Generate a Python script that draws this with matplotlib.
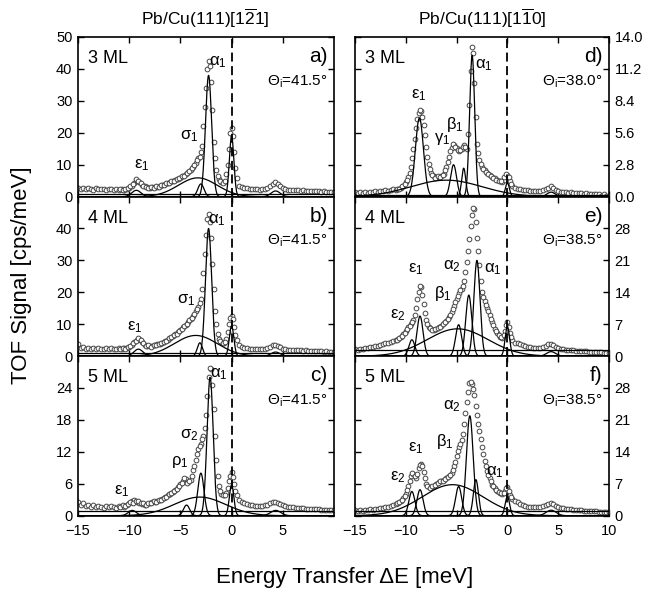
import numpy as np
import matplotlib.pyplot as plt

plt.rcParams['font.family'] = 'Liberation Sans'
plt.rcParams['mathtext.fontset'] = 'custom'
plt.rcParams['mathtext.rm'] = 'Liberation Sans'
plt.rcParams['mathtext.it'] = 'Liberation Sans:italic'
plt.rcParams['mathtext.bf'] = 'Liberation Sans:bold'

# energy transfer grid of the measured points [meV]
energy = np.arange(-15, 10.001, 0.25)
# extra points between the grid points in the peak region
energy_mid = np.arange(-10.875, 0.376, 0.25)

tof_a = [2.8, 2.4, 2.7, 2.3, 2.6, 2.5, 2.2, 2.6, 2.4, 2.3, 2.5, 2.2, 2.4, 2.3, 2.1, 2.4, 2.2, 2.3, 2.1, 2.5,
         2.8, 3.5, 4.3, 5.0, 4.6, 3.8, 3.2, 2.9,
         2.8, 2.9, 3.0, 3.1, 3.3, 3.6, 3.9, 4.3, 4.6, 5.0, 5.3, 5.6, 6.0, 6.5, 7.0, 7.6, 8.4, 9.3, 10.5, 12.0, 14.0,
         22, 34, 42.5, 36, 17, 8.5, 5.5, 4.5, 4.5, 7.0, 15, 21.5,
         14, 6.0, 3.5, 3.0, 2.8, 2.6, 2.5, 2.4, 2.3, 2.3, 2.2, 2.3, 2.4, 2.8, 3.4, 4.0, 4.5, 4.0, 3.2, 2.6,
         2.3, 2.2, 2.1, 2.2, 2.0, 2.1, 1.9, 2.0, 1.9, 1.8, 1.9, 1.7, 1.8, 1.7, 1.6, 1.7, 1.6, 1.5, 1.6, 1.5]
tof_b = [3.8, 2.6, 2.8, 2.3, 2.6, 2.4, 2.7, 2.3, 2.5, 2.4, 2.2, 2.6, 2.3, 2.5, 2.4, 2.2, 2.6, 2.4, 2.5, 2.7,
         3.0, 3.6, 4.3, 5.2, 5.5, 4.6, 3.6, 3.2,
         3.1, 3.3, 3.4, 3.7, 3.9, 4.2, 4.7, 5.2, 5.8, 6.3, 6.9, 7.5, 8.2, 9.0, 9.8, 10.8, 11.6, 12.6, 14.0, 15.5, 18.0,
         26, 38, 44.5, 37, 21, 10, 5.5, 4.3, 4.0, 5.5, 10, 12.5,
         9.0, 5.0, 3.4, 2.9, 2.7, 2.5, 2.4, 2.3, 2.2, 2.2, 2.1, 2.2, 2.3, 2.5, 3.0, 3.4, 3.6, 3.3, 2.8, 2.4,
         2.1, 2.0, 2.0, 1.9, 1.9, 1.8, 1.8, 1.7, 1.8, 1.6, 1.7, 1.6, 1.5, 1.6, 1.5, 1.4, 1.5, 1.4, 1.3, 1.4]
tof_c = [2.6, 2.0, 2.3, 1.8, 2.1, 1.7, 2.0, 1.6, 1.9, 1.7, 1.5, 1.8, 1.6, 1.9, 1.7, 1.5, 1.8, 1.9, 1.7, 2.0,
         2.3, 2.7, 2.9, 2.6, 2.4, 2.2, 2.1, 2.2,
         2.3, 2.5, 2.6, 2.8, 3.0, 3.2, 3.5, 3.8, 4.1, 4.4, 4.8, 5.3, 5.9, 6.5, 6.9, 6.4, 6.8, 8.5, 10.4, 12.5, 13.5,
         15.0, 19, 26, 27.5, 20, 10.5, 5.5, 4.0, 3.8, 4.2, 6.5, 8.3,
         6.0, 3.8, 2.9, 2.6, 2.4, 2.2, 2.1, 2.0, 1.9, 1.9, 1.8, 1.9, 2.0, 2.1, 2.3, 2.5, 2.6, 2.4, 2.2, 2.0,
         1.8, 1.7, 1.6, 1.6, 1.5, 1.5, 1.4, 1.4, 1.3, 1.3, 1.3, 1.2, 1.2, 1.2, 1.1, 1.1, 1.1, 1.0, 1.0, 1.0]
tof_d = [0.4, 0.3, 0.4, 0.3, 0.4, 0.3, 0.4, 0.4, 0.5, 0.4, 0.5, 0.5, 0.6, 0.5, 0.6, 0.7, 0.6, 0.7, 0.8, 0.9,
         1.3, 1.7, 2.6, 4.2, 6.0, 7.3, 7.5, 6.3,
         4.4, 2.9, 2.1, 1.8, 1.7, 1.7, 1.8, 2.0, 2.6, 3.5, 4.3, 4.5, 4.3, 4.0, 4.2, 4.5, 4.2, 8.0, 13.1, 10.0, 4.6,
         3.2, 2.6, 2.3, 2.1, 1.9, 1.7, 1.6, 1.5, 1.4, 1.3, 1.5, 1.9,
         1.4, 0.9, 0.8, 0.7, 0.7, 0.6, 0.6, 0.6, 0.5, 0.5, 0.5, 0.5, 0.5, 0.6, 0.7, 0.8, 0.9, 0.8, 0.6, 0.5,
         0.4, 0.4, 0.4, 0.3, 0.4, 0.3, 0.3, 0.3, 0.3, 0.2, 0.3, 0.2, 0.2, 0.2, 0.2, 0.2, 0.1, 0.2, 0.1, 0.1]
tof_e = [1.5, 1.3, 1.6, 1.5, 1.8, 1.7, 2.0, 2.0, 2.2, 2.3, 2.5, 2.6, 2.8, 2.9, 3.1, 3.3, 3.5, 3.8, 4.2, 4.8,
         5.5, 6.3, 7.0, 8.0, 10.5, 14.0, 15.2, 11.5,
         8.0, 6.5, 5.9, 5.8, 6.0, 6.3, 6.7, 7.2, 7.8, 8.6, 9.6, 11.0, 12.5, 13.8, 14.8, 16.5, 20.6, 25.7, 30.9, 32.3, 26.0,
         20, 14, 12, 10.5, 9.0, 7.5, 6.0, 5.0, 4.3, 4.0, 5.5, 7.5,
         5.0, 3.5, 3.0, 2.8, 2.6, 2.4, 2.2, 2.1, 2.0, 1.9, 1.8, 1.8, 1.9, 2.0, 2.3, 2.6, 2.7, 2.5, 2.1, 1.8,
         1.6, 1.5, 1.4, 1.4, 1.3, 1.3, 1.2, 1.2, 1.1, 1.1, 1.1, 1.0, 1.0, 1.0, 0.9, 0.9, 0.9, 0.8, 0.8, 0.8]
tof_f = [1.3, 1.0, 1.2, 1.1, 1.3, 1.2, 1.4, 1.3, 1.5, 1.4, 1.6, 1.7, 1.8, 1.9, 2.1, 2.3, 2.5, 2.8, 3.2, 3.8,
         4.8, 6.5, 8.8, 9.2, 8.3, 10.5, 11.4, 9.5,
         7.0, 6.2, 6.3, 6.6, 7.0, 7.3, 7.6, 7.9, 8.2, 8.6, 9.3, 10.8, 13.0, 15.0, 16.5, 20.0, 25.0, 29.0, 28.8, 26.5, 22.0,
         18.5, 15.0, 12.0, 9.8, 8.2, 6.8, 6.0, 5.4, 5.0, 4.8, 5.5, 6.2,
         4.6, 3.6, 3.2, 2.9, 2.6, 2.4, 2.2, 2.0, 1.9, 1.8, 1.8, 1.8, 1.9, 2.1, 2.4, 2.6, 2.7, 2.5, 2.2, 1.9,
         1.7, 1.6, 1.5, 1.4, 1.4, 1.3, 1.3, 1.2, 1.2, 1.1, 1.1, 1.1, 1.0, 1.0, 1.0, 0.9, 0.9, 0.9, 0.8, 0.8]

# measured points at the energies in energy_mid
mid_a = [2.4, 2.2, 2.4, 2.6, 3.2, 4.0, 5.4, 4.8, 4.2, 3.4, 3.1, 2.7, 3.0, 2.8, 3.2, 3.1, 3.6, 3.7, 4.2, 4.4,
         4.9, 5.0, 5.6, 5.7, 6.4, 6.6, 7.5, 7.9, 9.0, 9.8, 11.5, 12.5, 16, 28, 40, 41, 27, 12, 6.5, 5.0,
         4.4, 5.0, 10, 20, 19, 9.0]
mid_b = [2.3, 2.6, 2.4, 2.9, 3.2, 4.0, 4.9, 5.6, 5.0, 4.2, 3.3, 3.4, 3.0, 3.5, 3.5, 3.9, 4.0, 4.6, 4.9, 5.6,
         6.0, 6.7, 7.1, 7.9, 8.5, 9.5, 10.2, 11.3, 12.0, 13.2, 14.8, 16.5, 21, 32, 43, 42, 29, 14, 7.0, 4.8,
         4.0, 4.5, 7.5, 12.0, 11.5, 6.5]
mid_c = [1.6, 2.0, 1.8, 2.2, 2.6, 2.4, 2.8, 2.7, 2.3, 2.3, 2.0, 2.4, 2.4, 2.7, 2.6, 3.0, 3.0, 3.4, 3.6, 4.0,
         4.2, 4.7, 5.0, 5.6, 6.2, 7.1, 6.2, 6.6, 7.5, 9.4, 11.6, 13.0, 14.4, 16.5, 22.5, 27.8, 24.5, 15, 7.5, 4.6,
         3.9, 3.9, 5.2, 7.5, 7.3, 4.6]
mid_d = [0.7, 0.7, 0.9, 1.1, 1.5, 2.1, 3.4, 5.1, 6.8, 7.6, 7.0, 5.4, 3.5, 2.4, 1.9, 1.6, 1.8, 1.7, 1.9, 2.3,
         3.0, 4.0, 4.6, 4.4, 4.1, 4.1, 4.4, 4.4, 5.5, 11.0, 12.6, 7.0, 3.8, 2.9, 2.4, 2.2, 2.0, 1.8, 1.6, 1.5,
         1.4, 1.4, 1.7, 2.0, 1.7, 1.1]
mid_e = [3.6, 4.0, 4.5, 5.1, 5.9, 6.7, 7.4, 9.0, 12.5, 15.4, 13.5, 9.5, 7.1, 6.1, 5.8, 5.9, 6.2, 6.5, 7.0, 7.5,
         8.2, 9.1, 10.3, 11.8, 13.2, 14.5, 15.4, 18.5, 23.0, 28.5, 32.4, 29.5, 23.0, 16.5, 13.0, 11.2, 9.8, 8.2, 6.8, 5.5,
         4.6, 4.1, 4.6, 6.8, 6.5, 4.2]
mid_f = [2.7, 3.0, 3.5, 4.3, 5.6, 7.7, 9.4, 8.7, 9.2, 11.2, 10.8, 8.2, 6.5, 6.0, 6.5, 6.8, 7.1, 7.5, 7.7, 8.0,
         8.4, 8.9, 10.0, 11.8, 14.2, 15.8, 18.0, 22.5, 27.2, 29.3, 27.8, 24.0, 20.2, 16.8, 13.5, 10.8, 9.0, 7.5, 6.4, 5.7,
         5.2, 4.9, 5.0, 6.0, 5.4, 4.0]

# fitted gaussian components: (centre, height, sigma)
peaks_a = [(-2.25, 38, 0.3), (-3.0, 4.0, 0.3), (0.0, 19, 0.22), (-3.3, 5.9, 1.9),
           (-9.3, 2.0, 0.45), (4.3, 1.8, 0.45)]
peaks_b = [(-2.25, 40, 0.3), (-3.1, 4.2, 0.25), (0.0, 9.5, 0.22), (-3.5, 6.5, 2.1),
           (-9.1, 2.2, 0.45), (4.3, 1.3, 0.45)]
peaks_c = [(-2.1, 26, 0.3), (-3.0, 8.0, 0.3), (-4.4, 2.0, 0.3), (0.0, 5.8, 0.22),
           (-3.1, 3.5, 2.5), (-9.7, 1.0, 0.4), (4.3, 1.0, 0.5)]
peaks_d = [(-3.47, 12.4, 0.25), (-8.66, 6.9, 0.4), (-5.3, 2.8, 0.3), (-4.3, 2.5, 0.2),
           (-6.0, 1.45, 3.5), (0.0, 1.2, 0.2), (4.3, 0.4, 0.4)]
peaks_e = [(-3.0, 21, 0.3), (-3.8, 13.4, 0.3), (-4.8, 6.9, 0.3), (-8.6, 8.8, 0.3),
           (-9.4, 3.6, 0.3), (-4.9, 6.0, 3.0), (0.0, 6.5, 0.22), (4.3, 1.0, 0.45)]
peaks_f = [(-3.7, 21.9, 0.33), (-3.1, 7.9, 0.25), (-4.8, 6.4, 0.3), (-5.4, 6.8, 3.0),
           (-9.4, 5.3, 0.3), (-8.6, 5.7, 0.3), (0.0, 4.2, 0.22), (4.3, 1.2, 0.5)]

# constant background level of the fits
base = [1.0, 1.0, 0.9, 0.15, 1.4, 1.1]

# peak labels: (text, energy, signal)
labels_a = [(r'$\mathrm{\alpha_1}$', -1.3, 42), (r'$\mathrm{\sigma_1}$', -4.1, 19), (r'$\mathrm{\epsilon_1}$', -8.8, 10)]
labels_b = [(r'$\mathrm{\alpha_1}$', -1.4, 42.7), (r'$\mathrm{\sigma_1}$', -4.4, 17.5), (r'$\mathrm{\epsilon_1}$', -9.5, 9.1)]
labels_c = [(r'$\mathrm{\alpha_1}$', -1.2, 26.5), (r'$\mathrm{\sigma_2}$', -4.1, 15.2),
            (r'$\mathrm{\rho_1}$', -5.1, 10.1), (r'$\mathrm{\epsilon_1}$', -10.7, 4.7)]
labels_d = [(r'$\mathrm{\alpha_1}$', -2.3, 11.5), (r'$\mathrm{\epsilon_1}$', -8.7, 8.9),
            (r'$\mathrm{\beta_1}$', -5.2, 6.3), (r'$\mathrm{\gamma_1}$', -6.4, 5.1)]
labels_e = [(r'$\mathrm{\epsilon_1}$', -9.0, 19), (r'$\mathrm{\epsilon_2}$', -10.8, 9.0),
            (r'$\mathrm{\beta_1}$', -6.4, 13.8), (r'$\mathrm{\alpha_2}$', -5.5, 19.7),
            (r'$\mathrm{\alpha_1}$', -1.45, 19)]
labels_f = [(r'$\mathrm{\alpha_2}$', -5.5, 24), (r'$\mathrm{\beta_1}$', -6.2, 16.2),
            (r'$\mathrm{\epsilon_1}$', -9.0, 14.8), (r'$\mathrm{\epsilon_2}$', -10.8, 8.5),
            (r'$\mathrm{\alpha_1}$', -1.25, 9.6)]

coverage = ['3 ML', '4 ML', '5 ML', '3 ML', '4 ML', '5 ML']
letters = ['a)', 'b)', 'c)', 'd)', 'e)', 'f)']
angles = ['41.5', '41.5', '41.5', '38.0', '38.5', '38.5']
ymax = [50, 50, 30, 14, 35, 35]
yticks = [[0, 10, 20, 30, 40, 50], [0, 10, 20, 30, 40], [0, 6, 12, 18, 24],
          [0, 2.8, 5.6, 8.4, 11.2, 14.0], [0, 7, 14, 21, 28], [0, 7, 14, 21, 28]]

tofs = [tof_a, tof_b, tof_c, tof_d, tof_e, tof_f]
mids = [mid_a, mid_b, mid_c, mid_d, mid_e, mid_f]
peaks = [peaks_a, peaks_b, peaks_c, peaks_d, peaks_e, peaks_f]
labels = [labels_a, labels_b, labels_c, labels_d, labels_e, labels_f]

fig = plt.figure(figsize=(6.53, 5.95), dpi=100, facecolor='w')
W, H = 653.0, 595.0
col_x = [78, 355]
col_w = [256, 254]
row_top = [37, 196.5, 356]
row_h = 159.7

fine = np.linspace(-15, 10, 1500)

for i in range(6):
    col, row = i // 3, i % 3
    ax = fig.add_axes([col_x[col] / W, 1 - (row_top[row] + row_h) / H, col_w[col] / W, row_h / H])

    ax.plot(energy, tofs[i], 'o', ms=3.4, mfc='white', mec='#454545', mew=0.7, zorder=2)
    ax.plot(energy_mid, mids[i], 'o', ms=3.4, mfc='white', mec='#454545', mew=0.7, zorder=2)
    for c, h, s in peaks[i]:
        ax.plot(fine, h * np.exp(-(fine - c) ** 2 / (2 * s ** 2)), 'k-', lw=0.9, zorder=3)
    ax.axhline(base[i], color='k', lw=0.9, zorder=3)
    ax.axvline(0, color='k', ls=(0, (5, 2.5)), lw=1.3, zorder=4)

    ax.set_xlim(-15, 10)
    ax.set_ylim(0, ymax[i])
    ax.set_yticks(yticks[i])
    if i == 3:
        ax.set_yticklabels(['%.1f' % v for v in yticks[i]])
    if col == 0:
        ax.set_xticks([-15, -10, -5, 0, 5])
    else:
        ax.set_xticks([-15, -10, -5, 0, 5, 10])

    ax.tick_params(direction='in', length=4, width=1, top=True, right=True,
                   labelsize=10.5, pad=4,
                   labelleft=(col == 0), labelright=(col == 1),
                   labelbottom=(row == 2))
    ax.tick_params(axis='x', pad=6)
    for sp in ax.spines.values():
        sp.set_linewidth(1.2)

    for txt, xe, ys in labels[i]:
        ax.text(xe, ys, txt, fontsize=12, ha='center', va='center', zorder=5)

    ax.text(0.04, 0.865, coverage[i], transform=ax.transAxes, fontsize=13, ha='left', va='center')
    ax.text(0.975, 0.875, letters[i], transform=ax.transAxes, fontsize=15, ha='right', va='center')
    ax.text(0.975, 0.72, r'$\mathrm{\Theta_i}$=' + angles[i] + '°', transform=ax.transAxes,
            fontsize=11, ha='right', va='center')

fig.text(205 / W, 1 - 18 / H, r'Pb/Cu(111)[1$\overline{\mathrm{2}}$1]', fontsize=12.5, ha='center', va='center')
fig.text(482 / W, 1 - 18 / H, r'Pb/Cu(111)[1$\overline{\mathrm{1}}$0]', fontsize=12.5, ha='center', va='center')
fig.text(22 / W, 1 - 275 / H, 'TOF Signal [cps/meV]', fontsize=16, rotation=90, ha='center', va='center')
fig.text(345 / W, 1 - 577 / H, 'Energy Transfer ΔE [meV]', fontsize=16, ha='center', va='center')

plt.savefig('out.png', dpi=100)
